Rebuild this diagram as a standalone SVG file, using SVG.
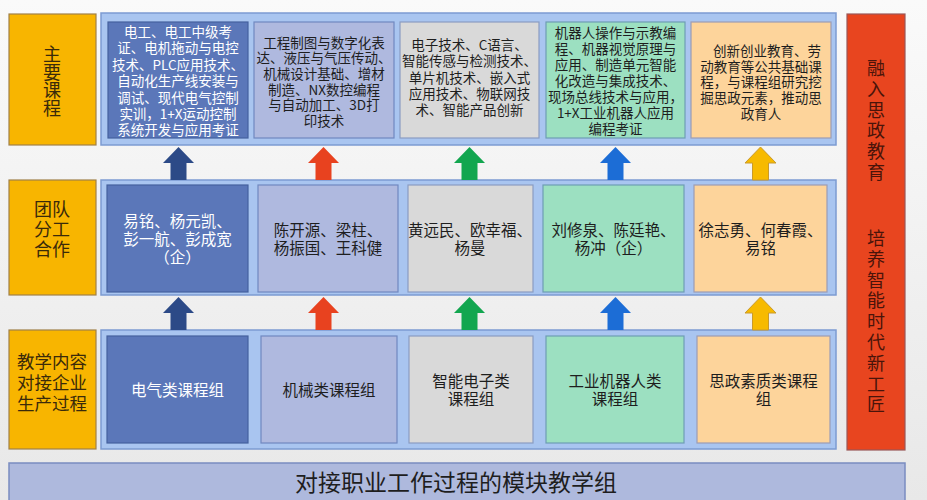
<svg xmlns="http://www.w3.org/2000/svg" width="927" height="500" viewBox="0 0 927 500">
<defs>
<linearGradient id="bg" x1="0" y1="0" x2="0" y2="1">
<stop offset="0" stop-color="#FAFAFA"/>
<stop offset="1" stop-color="#E8E8E8"/>
</linearGradient>
<style>
text{font-family:"Noto Sans CJK SC","Noto Sans",sans-serif;text-anchor:middle;dominant-baseline:central}
.cont{fill:#A9C5F0;stroke:#7C9BD2;stroke-width:1.5}
.c1{fill:#5B77B9;stroke:#45619E;stroke-width:1.2}
.c2{fill:#AFB9DF;stroke:#7088C0;stroke-width:1.2}
.c3{fill:#D9D9D9;stroke:#8A9CC2;stroke-width:1.2}
.c4{fill:#9CE0C1;stroke:#6E9DB4;stroke-width:1.2}
.c5{fill:#FDD49B;stroke:#9C9CB4;stroke-width:1.2}
.lab{fill:#F8B500;stroke:#A08048;stroke-width:1.2}
.red{fill:#E8451F;stroke:#9A5858;stroke-width:1.2}
.bar{fill:#AEB9DD;stroke:#7A8CC0;stroke-width:1.5}
.ts{font-size:13.5px;fill:#1E1E1E}
.tm{font-size:15.5px;fill:#1E1E1E}
.w{fill:#FFFFFF}
.tl{font-size:18px;fill:#3A2A0A}
.tr{font-size:18px;fill:#4A140A}
</style>
</defs>
<rect x="0" y="0" width="927" height="500" fill="url(#bg)"/>

<g id="row-containers">
<rect class="cont" x="101" y="13" width="735" height="132"/>
<rect class="cont" x="101" y="180" width="735" height="115"/>
<rect class="cont" x="101" y="330" width="735" height="119"/>
</g>

<g id="label-courses">
<rect class="lab" x="9" y="14" width="87" height="131"/>
<text class="tl" x="52" y="53"><tspan x="52" y="53">主</tspan><tspan x="52" y="71">要</tspan><tspan x="52" y="89">课</tspan><tspan x="52" y="107">程</tspan></text>
</g>
<g id="label-team">
<rect class="lab" x="9" y="180" width="87" height="115"/>
<text class="tl" x="52" y="208"><tspan x="52" y="208">团队</tspan><tspan x="52" y="228">分工</tspan><tspan x="52" y="248">合作</tspan></text>
</g>
<g id="label-content">
<rect class="lab" x="9" y="330" width="87" height="119"/>
<text class="tl" style="font-size:17.5px" x="52" y="360"><tspan x="52" y="360">教学内容</tspan><tspan x="52" y="381">对接企业</tspan><tspan x="52" y="402">生产过程</tspan></text>
</g>

<g id="course-electric">
<rect class="c1" x="108" y="22" width="140" height="116"/>
<text class="ts w"><tspan x="178" y="31">电工、电工中级考</tspan><tspan x="178" y="47.4">证、电机拖动与电控</tspan><tspan x="178" y="63.8">技术、PLC应用技术、</tspan><tspan x="178" y="80.2">自动化生产线安装与</tspan><tspan x="178" y="96.6">调试、现代电气控制</tspan><tspan x="178" y="113">实训，1+X运动控制</tspan><tspan x="178" y="129.4">系统开发与应用考证</tspan></text>
</g>
<g id="course-mech">
<rect class="c2" x="254" y="22" width="140" height="116"/>
<text class="ts"><tspan x="324" y="41.5">工程制图与数字化表</tspan><tspan x="324" y="57.2">达、液压与气压传动、</tspan><tspan x="324" y="72.9">机械设计基础、增材</tspan><tspan x="324" y="88.6">制造、NX数控编程</tspan><tspan x="324" y="104.3">与自动加工、3D打</tspan><tspan x="324" y="120">印技术</tspan></text>
</g>
<g id="course-electronic">
<rect class="c3" x="400" y="22" width="139" height="116"/>
<text class="ts"><tspan x="469.5" y="44">电子技术、C语言、</tspan><tspan x="469.5" y="60.3">智能传感与检测技术、</tspan><tspan x="469.5" y="76.6">单片机技术、嵌入式</tspan><tspan x="469.5" y="92.9">应用技术、物联网技</tspan><tspan x="469.5" y="109.2">术、智能产品创新</tspan></text>
</g>
<g id="course-robot">
<rect class="c4" x="546" y="22" width="139" height="116"/>
<text class="ts"><tspan x="615.5" y="31.5">机器人操作与示教编</tspan><tspan x="615.5" y="47.5">程、机器视觉原理与</tspan><tspan x="615.5" y="63.5">应用、制造单元智能</tspan><tspan x="615.5" y="79.5">化改造与集成技术、</tspan><tspan x="615.5" y="95.5">现场总线技术与应用，</tspan><tspan x="615.5" y="111.5">1+X工业机器人应用</tspan><tspan x="615.5" y="127.5">编程考证</tspan></text>
</g>
<g id="course-ideology">
<rect class="c5" x="691" y="22" width="140" height="116"/>
<text class="ts"><tspan x="767" y="50">创新创业教育、劳</tspan><tspan x="761" y="65.7">动教育等公共基础课</tspan><tspan x="761" y="81.4">程，与课程组研究挖</tspan><tspan x="761" y="97.1">掘思政元素，推动思</tspan><tspan x="761" y="112.8">政育人</tspan></text>
</g>

<g id="team-electric">
<rect class="c1" x="107" y="185" width="141" height="107"/>
<text class="tm w"><tspan x="177.5" y="220">易铭、杨元凯、</tspan><tspan x="177.5" y="238">彭一航、彭成宽</tspan><tspan x="177.5" y="256">（企）</tspan></text>
</g>
<g id="team-mech">
<rect class="c2" x="258" y="185" width="140" height="107"/>
<text class="tm"><tspan x="328" y="229">陈开源、梁柱、</tspan><tspan x="328" y="247">杨振国、王科健</tspan></text>
</g>
<g id="team-electronic">
<rect class="c3" x="408" y="185" width="125" height="107"/>
<text class="tm"><tspan x="470" y="229">黄远民、欧幸福、</tspan><tspan x="470" y="247">杨曼</tspan></text>
</g>
<g id="team-robot">
<rect class="c4" x="543" y="185" width="141" height="107"/>
<text class="tm"><tspan x="613.5" y="229">刘修泉、陈廷艳、</tspan><tspan x="613.5" y="247">杨冲（企）</tspan></text>
</g>
<g id="team-ideology">
<rect class="c5" x="694" y="185" width="133" height="107"/>
<text class="tm"><tspan x="760.5" y="229">徐志勇、何春霞、</tspan><tspan x="760.5" y="247">易铭</tspan></text>
</g>

<g id="group-electric">
<rect class="c1" x="107" y="336" width="141" height="107"/>
<text class="tm w" x="177.5" y="389">电气类课程组</text>
</g>
<g id="group-mech">
<rect class="c2" x="261" y="336" width="136" height="107"/>
<text class="tm" x="329" y="389">机械类课程组</text>
</g>
<g id="group-electronic">
<rect class="c3" x="409" y="336" width="124" height="107"/>
<text class="tm"><tspan x="471" y="380">智能电子类</tspan><tspan x="471" y="398">课程组</tspan></text>
</g>
<g id="group-robot">
<rect class="c4" x="546" y="336" width="138" height="107"/>
<text class="tm"><tspan x="615" y="380">工业机器人类</tspan><tspan x="615" y="398">课程组</tspan></text>
</g>
<g id="group-ideology">
<rect class="c5" x="697" y="336" width="133" height="107"/>
<text class="tm"><tspan x="763.5" y="380">思政素质类课程</tspan><tspan x="763.5" y="398">组</tspan></text>
</g>

<g id="ideology-bar">
<rect class="red" x="847" y="14" width="58" height="436"/>
<text class="tr"><tspan x="876" y="67">融</tspan><tspan x="876" y="87.8">入</tspan><tspan x="876" y="108.6">思</tspan><tspan x="876" y="129.4">政</tspan><tspan x="876" y="150.2">教</tspan><tspan x="876" y="171">育</tspan><tspan x="876" y="237">培</tspan><tspan x="876" y="257.8">养</tspan><tspan x="876" y="278.6">智</tspan><tspan x="876" y="299.4">能</tspan><tspan x="876" y="320.2">时</tspan><tspan x="876" y="341">代</tspan><tspan x="876" y="361.8">新</tspan><tspan x="876" y="382.6">工</tspan><tspan x="876" y="403.4">匠</tspan></text>
</g>

<g id="module-bar">
<rect class="bar" x="9" y="463" width="896" height="40"/>
<text x="456" y="481" style="font-size:23px;fill:#1E1E1E">对接职业工作过程的模块教学组</text>
</g>

<g id="connectors">
<path fill="#2C4A87" d="M178.5 147 L194 163 L186.5 163 L186.5 180 L170.5 180 L170.5 163 L163 163 Z"/>
<path fill="#E8421F" d="M323.5 147 L339 163 L331.5 163 L331.5 180 L315.5 180 L315.5 163 L308 163 Z"/>
<path fill="#12A64F" d="M469.5 147 L485 163 L477.5 163 L477.5 180 L461.5 180 L461.5 163 L454 163 Z"/>
<path fill="#1C6DD6" d="M615.5 147 L631 163 L623.5 163 L623.5 180 L607.5 180 L607.5 163 L600 163 Z"/>
<path fill="#F7BA00" stroke="#C99A2C" stroke-width="1" d="M760.5 147 L776 163 L768.5 163 L768.5 180 L752.5 180 L752.5 163 L745 163 Z"/>
<path fill="#2C4A87" d="M178.5 297 L194 313 L186.5 313 L186.5 330 L170.5 330 L170.5 313 L163 313 Z"/>
<path fill="#E8421F" d="M323.5 297 L339 313 L331.5 313 L331.5 330 L315.5 330 L315.5 313 L308 313 Z"/>
<path fill="#12A64F" d="M469.5 297 L485 313 L477.5 313 L477.5 330 L461.5 330 L461.5 313 L454 313 Z"/>
<path fill="#1C6DD6" d="M615.5 297 L631 313 L623.5 313 L623.5 330 L607.5 330 L607.5 313 L600 313 Z"/>
<path fill="#F7BA00" stroke="#C99A2C" stroke-width="1" d="M760.5 297 L776 313 L768.5 313 L768.5 330 L752.5 330 L752.5 313 L745 313 Z"/>
</g>
</svg>
